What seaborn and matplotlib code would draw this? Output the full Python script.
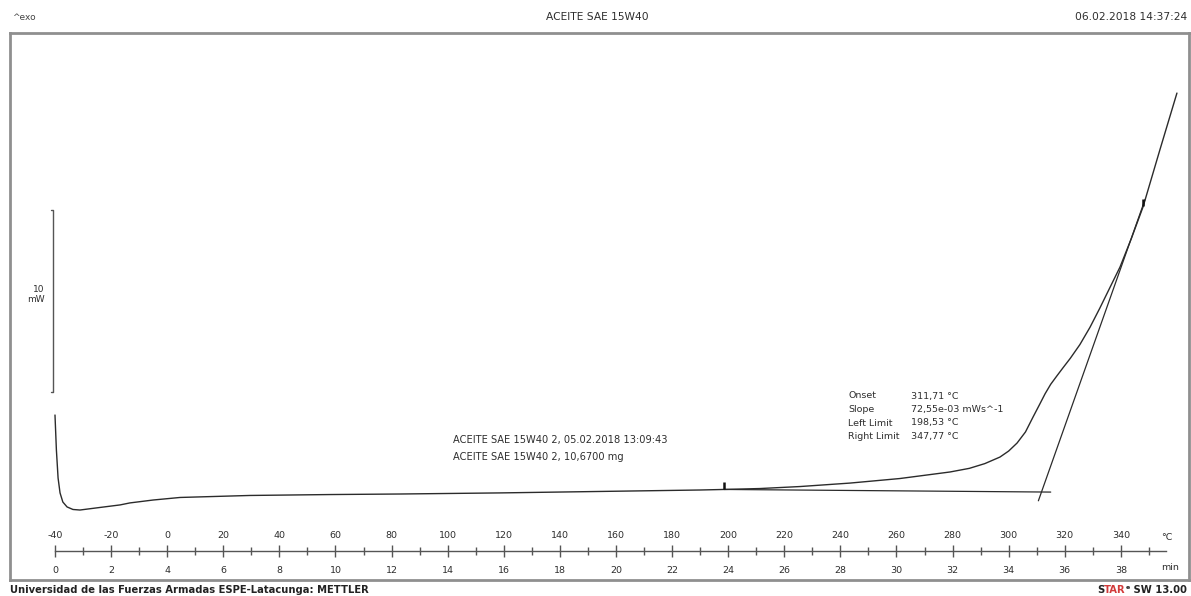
import matplotlib
matplotlib.use("Agg")
import matplotlib.pyplot as plt
import numpy as np
import pandas as pd
import seaborn as sns

# DSC heating run of the oil sample: sample temperature (°C) and heat flow (mW, exo up)
temperature_c = [-40.0, -39.5, -38.9, -38.2, -37.2, -35.7, -33.6, -31.1, -24.0, -16.8,
                 -13.3, -5.0, 4.6, 29.5, 58.0, 83.0, 118.6, 154.3, 189.9, 198.5,
                 211.3, 225.6, 243.4, 261.2, 279.1, 286.0, 291.5, 296.9, 300.0, 303.0,
                 306.0, 308.7, 311.0, 313.0, 315.0, 317.2, 319.5, 322.0, 325.4, 329.0,
                 332.5, 336.0, 339.7, 343.8, 347.9, 353.9, 360.0]
heat_flow_mw = [4.23, 2.31, 0.77, -0.05, -0.55, -0.82, -0.96, -0.99, -0.85, -0.71,
                -0.60, -0.44, -0.30, -0.19, -0.14, -0.11, -0.05, 0.03, 0.11, 0.14,
                0.19, 0.30, 0.49, 0.74, 1.10, 1.30, 1.56, 1.92, 2.25, 2.69,
                3.30, 4.12, 4.80, 5.40, 5.92, 6.38, 6.85, 7.35, 8.10, 9.05,
                10.10, 11.20, 12.36, 13.95, 15.66, 18.79, 21.92]

# Axis ticks: temperature and the matching time of the 10 K/min program
temp_ticks = list(range(-40, 341, 20))
temp_minor_ticks = list(range(-30, 351, 20))
time_ticks = list(range(0, 39, 2))
program_start_c = -40.0
heating_rate_k_per_min = 10.0

# Onset evaluation results
onset_c = 311.71
slope_mw_per_s = 72.55e-03
left_limit_c = 198.53
right_limit_c = 347.77
baseline_at_onset_mw = 0.0
scale_bar_mw = 10

header_left = "^exo"
title = "ACEITE SAE 15W40"
timestamp = "06.02.2018 14:37:24"
sample_lines = ["ACEITE SAE 15W40 2, 05.02.2018 13:09:43",
                "ACEITE SAE 15W40 2, 10,6700 mg"]
result_names = ["Onset", "Slope", "Left Limit", "Right Limit"]
result_values = ["311,71 °C", "72,55e-03 mWs^-1", "198,53 °C", "347,77 °C"]
footer_left = "Universidad de las Fuerzas Armadas ESPE-Latacunga: METTLER"

W, H = 1191, 596
sns.set_theme(style="white")
plt.rcParams["font.family"] = ["DejaVu Sans"]
plt.rcParams["axes.unicode_minus"] = False

fig = plt.figure(figsize=(W / 100, H / 100), dpi=100)


def fx(x):
    return x / W


def fy(y):
    return 1 - y / H


LINE = "#2b2b2b"
TXT = "#2e2e2e"
x_lo, x_hi = -56.04, 364.3

# Plot frame
left_px, top_px, right_px, bottom_px = 10, 33, 1189, 580
rect = [fx(left_px), fy(bottom_px), (right_px - left_px) / W, (bottom_px - top_px) / H]
ax = fig.add_axes(rect)
ax.set_xlim(x_lo, x_hi)
ax.set_ylim(-4.835, 25.22)
ax.set_xticks([])
ax.set_yticks([])
for s in ax.spines.values():
    s.set_color("#8f8f8f")
    s.set_linewidth(2)

df = pd.DataFrame({"T": temperature_c, "HF": heat_flow_mw})
sns.lineplot(data=df, x="T", y="HF", sort=False, estimator=None,
             color=LINE, lw=1.0, ax=ax)
ax.set_xlabel("")
ax.set_ylabel("")

# Baseline from the left limit and inflection tangent through the right limit
left_value = float(np.interp(left_limit_c, temperature_c, heat_flow_mw))
bl_slope = (baseline_at_onset_mw - left_value) / (onset_c - left_limit_c)
bl_t = np.array([left_limit_c, 315.0])
bl_y = left_value + bl_slope * (bl_t - left_limit_c)
ax.plot(bl_t, bl_y, color=LINE, lw=0.9)

tan_slope = slope_mw_per_s * 60.0 / heating_rate_k_per_min
tan_t = np.array([310.6, 348.6])
tan_y = baseline_at_onset_mw + tan_slope * (tan_t - onset_c)
ax.plot(tan_t, tan_y, color=LINE, lw=0.9)

right_value = baseline_at_onset_mw + tan_slope * (right_limit_c - onset_c)
ax.plot([left_limit_c], [left_value], marker=2, ms=5, mew=1.8, color="#111111")
ax.plot([right_limit_c], [right_value], marker=2, ms=5, mew=1.8, color="#111111")

# Heat-flow scale bar
bar_x = -40.7
bar_lo = 5.5
ax.plot([bar_x - 0.8, bar_x, bar_x, bar_x - 0.8],
        [bar_lo, bar_lo, bar_lo + scale_bar_mw, bar_lo + scale_bar_mw],
        color="#555555", lw=1.0)
ax.text(-43.6, bar_lo + scale_bar_mw / 2 + 0.35, f"{scale_bar_mw}\nmW", ha="right", va="center",
        multialignment="right", fontsize=6.5, color=TXT, linespacing=1.25)

# Temperature scale with its time scale underneath
axis_px = 551
sc = fig.add_axes([fx(left_px), fy(axis_px), (right_px - left_px) / W, 1e-4])
sc.set_xlim(x_lo, x_hi)
sc.patch.set_alpha(0)
for k in ["left", "right", "top"]:
    sc.spines[k].set_visible(False)
sc.spines["bottom"].set_bounds(-40, 356)
sc.spines["bottom"].set_color("#555555")
sc.spines["bottom"].set_linewidth(1.0)
sc.set_yticks([])
sc.set_xticks(temp_ticks)
sc.set_xticks(temp_minor_ticks, minor=True)
sc.tick_params(axis="x", which="major", direction="inout", length=9, width=1,
               color="#555555", bottom=True, top=False, labelbottom=False,
               labeltop=True, labelsize=6.8, labelcolor=TXT, pad=3.5)
sc.tick_params(axis="x", which="minor", direction="inout", length=6, width=1,
               color="#555555", bottom=True, top=False)
sc.annotate("°C", xy=(356.4, 0), xycoords=("data", "axes fraction"),
            xytext=(0, 14), textcoords="offset pixels", ha="center", va="center",
            fontsize=6.8, color=TXT, annotation_clip=False)

tm = fig.add_axes([fx(left_px), fy(axis_px), (right_px - left_px) / W, 1e-4])
tm.set_xlim((x_lo - program_start_c) / heating_rate_k_per_min,
            (x_hi - program_start_c) / heating_rate_k_per_min)
tm.patch.set_alpha(0)
for s in tm.spines.values():
    s.set_visible(False)
tm.set_yticks([])
tm.set_xticks(time_ticks)
tm.tick_params(axis="x", which="major", length=0, bottom=True, top=False,
               labelsize=6.8, labelcolor=TXT, pad=11)
tm.annotate("min", xy=(39.75, 0), xycoords=("data", "axes fraction"),
            xytext=(0, -16), textcoords="offset pixels", ha="center", va="center",
            fontsize=6.8, color=TXT, annotation_clip=False)

# Header
fig.text(fx(12), fy(17), header_left, ha="left", va="center", fontsize=6.5, color="#444444")
fig.text(fx(597), fy(17), title, ha="center", va="center", fontsize=7.7, color=TXT)
fig.text(fx(1187), fy(17), timestamp, ha="right", va="center", fontsize=7.7, color=TXT)

# Sample information
for i, line in enumerate(sample_lines):
    fig.text(fx(453), fy(440 + 16.5 * i), line, ha="left", va="center",
             fontsize=7.1, color=TXT)

# Evaluation results table
for i, (name, value) in enumerate(zip(result_names, result_values)):
    y = 396 + 13.5 * i
    fig.text(fx(848), fy(y), name, ha="left", va="center", fontsize=6.8, color=TXT)
    fig.text(fx(911), fy(y), value, ha="left", va="center", fontsize=6.8, color=TXT)

# Footer
fig.text(fx(10), fy(590), footer_left, ha="left", va="center", fontsize=7.2,
         fontweight="bold", color="#222222")
t_sw = fig.text(fx(1187), fy(590), " SW 13.00", ha="right", va="center",
                fontsize=7.2, fontweight="bold", color="#222222")
t_e = ax.annotate("e", xy=(0, 0.5), xycoords=t_sw, ha="right", va="bottom",
                  fontsize=4.5, fontweight="bold", color="#222222", annotation_clip=False)
t_tar = ax.annotate("TAR", xy=(0, 0.5), xycoords=(t_e, t_sw), ha="right", va="center",
                    fontsize=7.2, fontweight="bold", color="#d23a3a", annotation_clip=False)
ax.annotate("S", xy=(0, 0.5), xycoords=(t_tar, t_sw), ha="right", va="center",
            fontsize=7.2, fontweight="bold", color="#222222", annotation_clip=False)

fig.savefig("out.png", dpi=100)
